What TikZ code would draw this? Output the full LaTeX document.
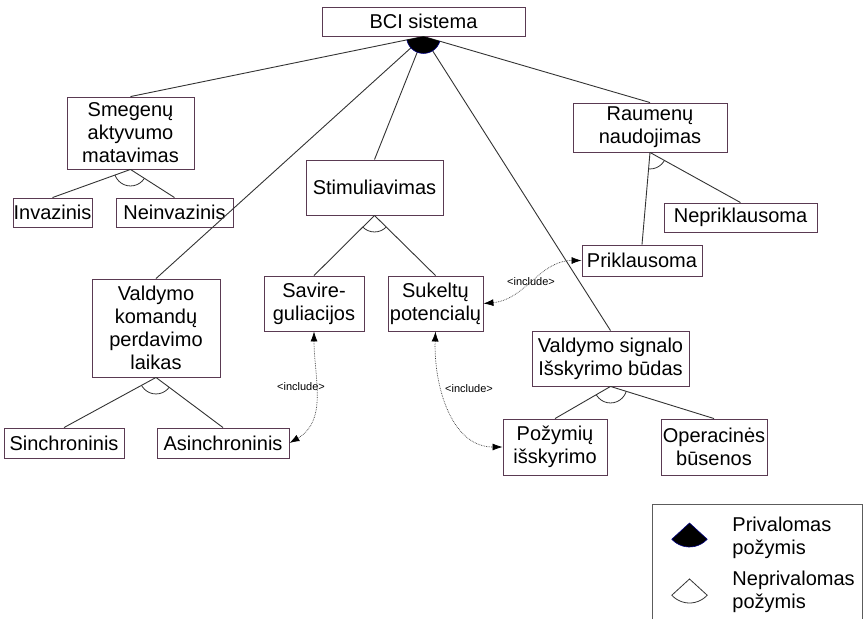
\documentclass[tikz,border=0pt]{standalone}
\usepackage{fontspec}
\setmainfont{Liberation Sans}
\usepackage{tikz}
\usetikzlibrary{arrows.meta}

\definecolor{boxline}{HTML}{5A3A52}
\definecolor{darkline}{HTML}{333333}

\begin{document}
\begin{tikzpicture}[x=1pt,y=-1pt,every node/.style={rectangle, draw=boxline, line width=0.9pt, inner sep=0pt, align=center, font=\fontsize{20}{23}\selectfont}]

	\tikzset{edge/.style = {draw=darkline, line width=0.9pt}}
	\tikzset{incl/.style = {<->, >={Latex[length=10pt,width=7pt,fill=black,color=black]}, draw=darkline, line width=0.7pt, densely dotted}}
	\tikzset{inclabel/.style = {draw=none, font=\fontsize{11}{12}\selectfont}}
	\tikzset{legtext/.style = {draw=none, anchor=west, align=left}}

	\useasboundingbox (0,0) rectangle (867,619);

	\node[minimum width=203pt, minimum height=29pt] (bci) at (423.5,21.5) {BCI sistema};

	\node[minimum width=127pt, minimum height=72pt] (smeg) at (130.5,133) {Smegenų\\aktyvumo\\matavimas};
	\node[minimum width=79pt, minimum height=29pt] (inv) at (52.5,212.5) {Invazinis};
	\node[minimum width=117pt, minimum height=29pt] (neinv) at (174.5,212.5) {Neinvazinis};

	\node[minimum width=137pt, minimum height=55pt] (stim) at (374.5,187.5) {Stimuliavimas};
	\node[minimum width=100pt, minimum height=55pt] (savi) at (314,303.5) {Savire-\\guliacijos};
	\node[minimum width=95pt, minimum height=55pt] (suk) at (435.5,303.5) {Sukeltų\\potencialų};

	\node[minimum width=154pt, minimum height=49pt] (raum) at (650,127.5) {Raumenų\\naudojimas};
	\node[minimum width=153pt, minimum height=29pt] (neprikl) at (740.5,217.5) {Nepriklausoma};
	\node[minimum width=120pt, minimum height=31pt] (prikl) at (642,260.5) {Priklausoma};

	\node[minimum width=128pt, minimum height=98pt] (vkom) at (156,328) {Valdymo\\komandų\\perdavimo\\laikas};
	\node[minimum width=120pt, minimum height=30pt] (sinch) at (64,443) {Sinchroninis};
	\node[minimum width=132pt, minimum height=30pt] (asinch) at (223,443) {Asinchroninis};

	\node[minimum width=157pt, minimum height=55pt] (vsig) at (610.5,358.5) {Valdymo signalo\\Išskyrimo būdas};
	\node[minimum width=104pt, minimum height=56pt] (pozym) at (555,447) {Požymių\\išskyrimo};
	\node[minimum width=106pt, minimum height=56pt] (oper) at (714,447) {Operacinės\\būsenos};

	\foreach \source/\dest in {bci/smeg,bci/vkom,bci/stim,bci/vsig,bci/raum,smeg/inv,smeg/neinv,stim/savi,stim/suk,raum/prikl,raum/neprikl,vkom/sinch,vkom/asinch,vsig/pozym,vsig/oper}
	\draw[edge] (\source.south) -- (\dest.north);

	% mandatory group
	\begin{scope}
		\clip (bci.south) -- (smeg.north) -- (raum.north) -- cycle;
		\fill[black] (bci.south) circle (17pt);
		\draw[blue!50!black, line width=0.6pt] (bci.south) circle (17pt);
	\end{scope}

	% optional groups
	\foreach \parent/\left/\right in {smeg/inv/neinv,stim/savi/suk,raum/prikl/neprikl,vkom/sinch/asinch,vsig/pozym/oper}
	{
		\begin{scope}
			\clip (\parent.south) -- (\left.north) -- (\right.north) -- cycle;
			\draw[darkline, line width=0.8pt] (\parent.south) circle (16.5pt);
		\end{scope}
	}

	\draw[incl] (savi.south) to[out=-90,in=30] (asinch.east);
	\draw[incl] (suk.south) to[out=-92,in=180] (pozym.west);
	\draw[incl] (suk.east) to[out=5,in=180] (prikl.west);

	\node[inclabel] (inc1) at (301,387) {<include>};
	\node[inclabel] (inc2) at (469,389) {<include>};
	\node[inclabel] (inc3) at (531,282) {<include>};

	% legend
	\draw[draw=darkline!80, line width=0.9pt] (652,619) -- (652,504) -- (862,504) -- (862,619);
	\fill[black, draw=blue!50!black, line width=0.6pt] (689.5,523) -- ++(-137.5:24pt) arc[start angle=-137.5, end angle=-42.5, radius=24pt] -- cycle;
	\draw[darkline, line width=0.8pt] (689.5,579) -- ++(-137.5:24pt) arc[start angle=-137.5, end angle=-42.5, radius=24pt] -- cycle;
	\node[legtext] (priv) at (732,538) {Privalomas\\požymis};
	\node[legtext] (nepriv) at (732,592) {Neprivalomas\\požymis};

\end{tikzpicture}
\end{document}
